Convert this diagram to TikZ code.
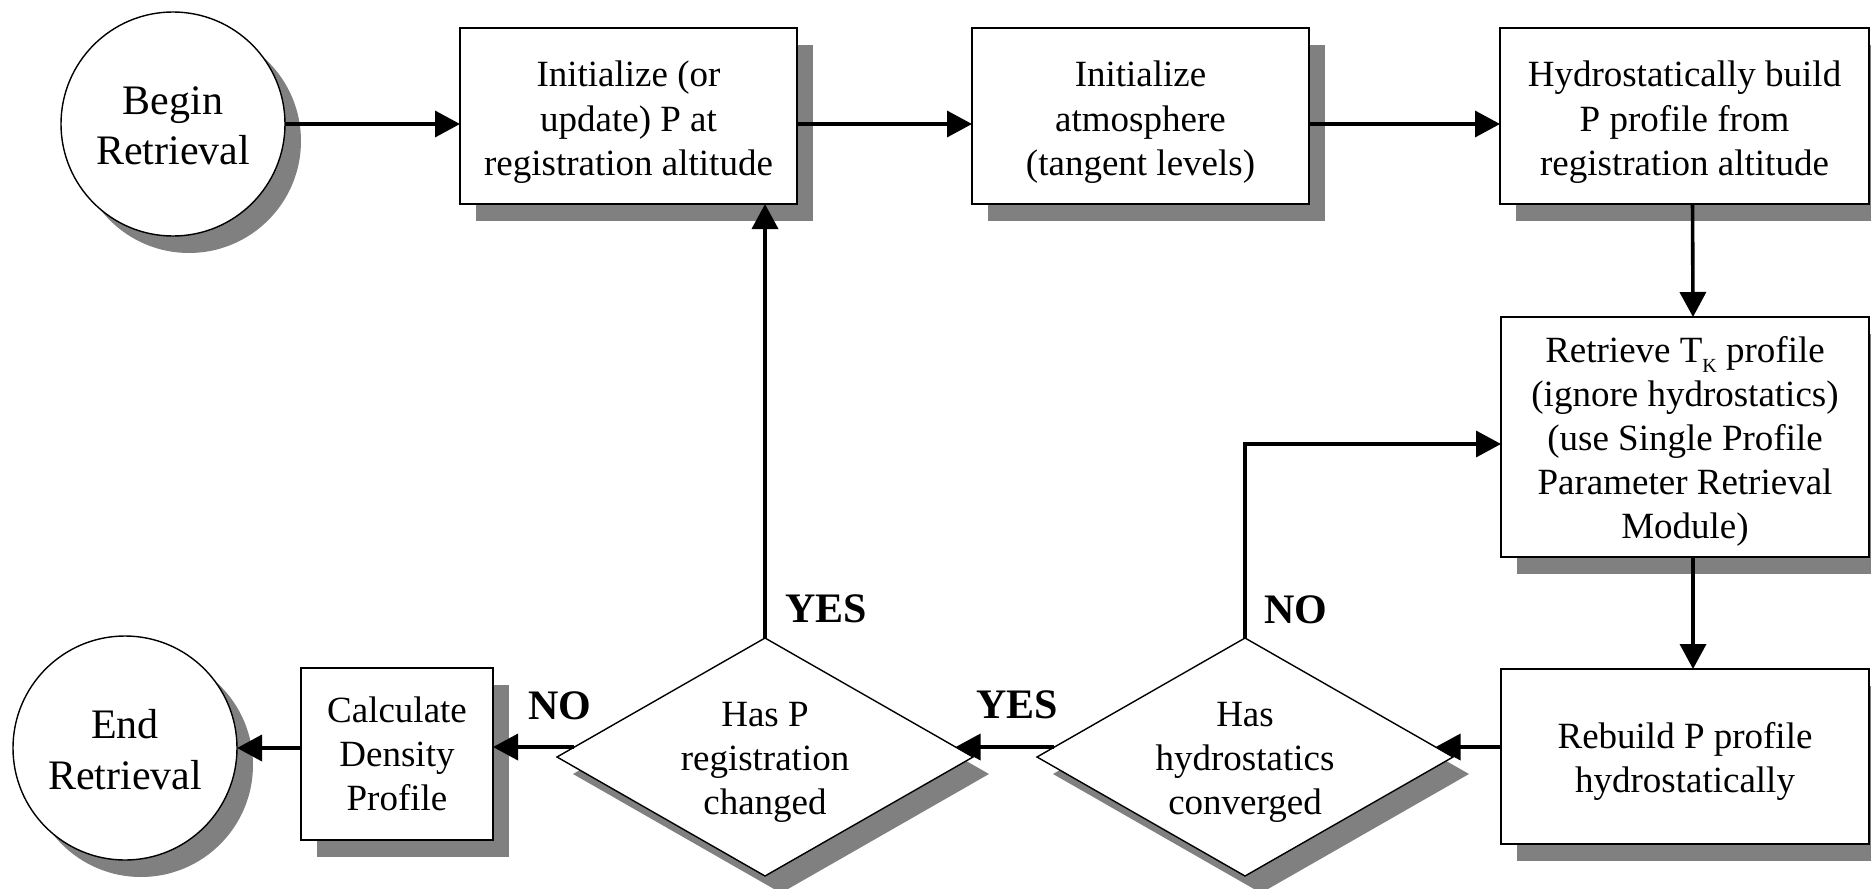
\documentclass[tikz,border=0pt]{standalone}
\usepackage{fontspec}
\setmainfont{Liberation Serif}
\usetikzlibrary{shapes.geometric,shadows,arrows.meta}
\definecolor{shadowgray}{HTML}{808080}
% centred lines that take no room in the node; #1 lifts the first baseline
% above the node centre
\newcommand{\ctext}[2]{\smash{\raisebox{#1}{\begin{tabular}[t]{@{}c@{}}#2\end{tabular}}}}
\tikzset{
  base/.style={draw=black, fill=white, inner sep=0pt, outer sep=0pt,
    font=\fontsize{18.5}{22}\selectfont,
    general shadow={shadow xshift=8pt, shadow yshift=-8.5pt, fill=shadowgray}},
  procbox/.style={base, rectangle, line width=1pt},
  terminal/.style={base, circle, line width=0.7pt, minimum size=112pt,
    font=\fontsize{21}{25.5}\selectfont},
  decision/.style={base, diamond, line width=0.7pt, minimum width=208pt, minimum height=119pt},
  flow/.style={line width=1.8pt, -{Triangle[length=12.5pt,width=13pt]}},
  answer/.style={font=\bfseries\fontsize{21}{25}\selectfont, inner sep=0pt},
}
\begin{document}
\begin{tikzpicture}[x=0.5pt, y=-0.5pt]
\useasboundingbox (0,0) rectangle (1871,888);

% top row
\node[terminal] (start) at (173,124) {\ctext{5pt}{Begin\\Retrieval}};
\node[procbox, minimum width=168.5pt, minimum height=88pt] (init) at (628.5,116)
  {\ctext{14.5pt}{Initialize (or\\update) P at\\registration altitude}};
\node[procbox, minimum width=168.5pt, minimum height=88pt] (atm) at (1140.5,116)
  {\ctext{14.5pt}{Initialize\\atmosphere\\(tangent levels)}};
\node[procbox, minimum width=184.5pt, minimum height=88pt] (hydro) at (1684.5,116)
  {\ctext{14.5pt}{Hydrostatically build\\P profile from\\registration altitude}};

% right column
\node[procbox, minimum width=184pt, minimum height=120pt] (retr) at (1685,437)
  {\ctext{37.5pt}{Retrieve T\raisebox{-5pt}{\fontsize{10}{10}\selectfont K} profile\\(ignore hydrostatics)\\(use Single Profile\\Parameter Retrieval\\Module)}};
\node[procbox, minimum width=184pt, minimum height=87.5pt] (rebuild) at (1685,756.5)
  {\ctext{4.25pt}{Rebuild P profile\\hydrostatically}};

% bottom row
\node[decision] (conv) at (1245,757) {\ctext{15.5pt}{Has\\hydrostatics\\converged}};
\node[decision] (reg) at (765,757) {\ctext{15.5pt}{Has P\\registration\\changed}};
\node[procbox, minimum width=96pt, minimum height=86pt] (calc) at (397,754)
  {\ctext{16pt}{Calculate\\Density\\Profile}};
\node[terminal] (finish) at (125,748) {\ctext{5pt}{End\\Retrieval}};

% branch labels
\node[answer] (yesup) at (826,609) {YES};
\node[answer] (nocalc) at (560,706) {NO};
\node[answer] (yesleft) at (1017,705) {YES};
\node[answer] (noup) at (1296,610) {NO};

% connectors
\draw[flow] (start.east) -- (start.east -| init.west);
\draw[flow] (init.east |- start.east) -- (start.east -| atm.west);
\draw[flow] (atm.east |- start.east) -- (start.east -| hydro.west);
\draw[flow] ([xshift=4pt]hydro.south) -- ([xshift=4pt]retr.north);
\draw[flow] ([xshift=4pt]retr.south) -- ([xshift=4pt]rebuild.north);
\draw[flow] (rebuild.west |- conv.3) -- (conv.3);
\draw[flow] (conv.177) -- (reg.3);
\draw[flow] (reg.177) -- (reg.177 -| calc.east);
\draw[flow] (calc.west |- finish.east) -- (finish.east);
\draw[flow] (reg.north) -- (reg.north |- init.south);
\draw[flow] (conv.north) |- ([yshift=-3.5pt]retr.west);
\end{tikzpicture}
\end{document}
